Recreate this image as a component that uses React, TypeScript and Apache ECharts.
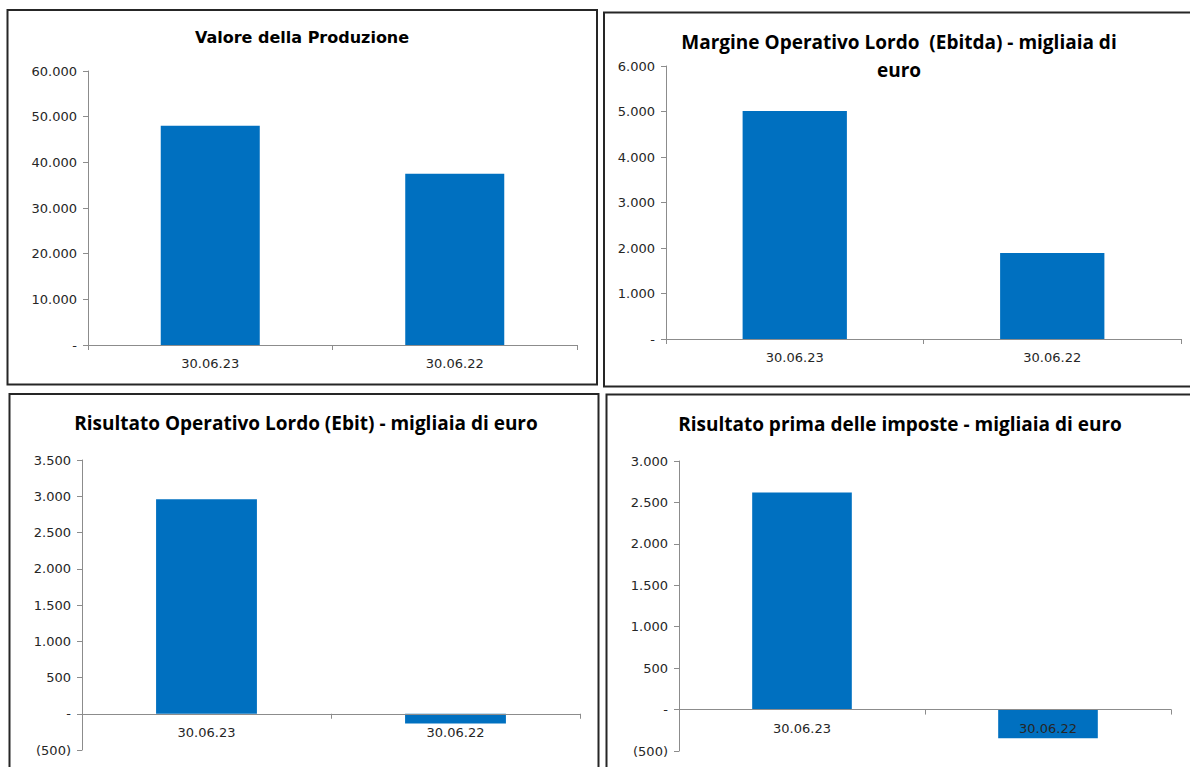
import React, { useEffect, useRef } from "react";
import * as echarts from "echarts";

const categories = ["30.06.23", "30.06.22"];
const produzione = [48000, 37500];
const ebitda = [5010, 1890];
const ebit = [2960, -135];
const preTax = [2620, -345];

const titles = [
  "Valore della Produzione",
  "Margine Operativo Lordo  (Ebitda) - migliaia di\neuro",
  "Risultato Operativo Lordo (Ebit) - migliaia di euro",
  "Risultato prima delle imposte - migliaia di euro",
];
const yMins = [0, 0, -500, -500];
const yMaxs = [60000, 6000, 3500, 3000];
const yIntervals = [10000, 1000, 500, 500];
const seriesData = [produzione, ebitda, ebit, preTax];

const BAR = "#0070C0";
const AXIS = "#8c8c8c";
const TXT = "#262626";

function fmtNum(v: number): string {
  const s = Math.round(Math.abs(v)).toString();
  return s.replace(/\B(?=(\d{3})+(?!\d))/g, ".");
}
function yLabel(v: number): string {
  if (v === 0) return "-";
  if (v < 0) return "(" + fmtNum(v) + ")";
  return fmtNum(v);
}

export default function App() {
  const ref = useRef<HTMLDivElement>(null);
  useEffect(() => {
    if (!ref.current) return;
    const chart = echarts.init(ref.current, undefined, { renderer: "svg" });

    const grids = [
      { left: 88, top: 71, width: 489, height: 274 },
      { left: 666, top: 66, width: 515, height: 273 },
      { left: 82, top: 460, width: 498, height: 290 },
      { left: 679, top: 461, width: 492, height: 290 },
    ];
    const titlePos = [
      { left: 302, top: 27 },
      { left: 899, top: 28 },
      { left: 306, top: 409 },
      { left: 900, top: 410 },
    ];

    const option: any = {
      animation: false,
      backgroundColor: "#ffffff",
      title: titles.map((t, i) => ({
        text: t,
        left: titlePos[i].left,
        top: titlePos[i].top,
        padding: 0,
        textAlign: "center",
        textStyle:
          i === 0
            ? { fontFamily: "DejaVu Sans", fontWeight: "bold", fontSize: 16, color: "#000", lineHeight: 20 }
            : { fontFamily: "Open Sans", fontWeight: "bold", fontSize: 19, color: "#000", lineHeight: 28 },
      })),
      grid: grids.map((g) => ({ ...g, containLabel: false, outerBoundsMode: "none" })),
      xAxis: grids.map((g, i) => ({
        type: "category",
        gridIndex: i,
        data: categories,
        z: 5,
        offset: -(g.height * (0 - yMins[i])) / (yMaxs[i] - yMins[i]),
        axisLine: { show: true, onZero: false, lineStyle: { color: AXIS, width: 1 } },
        axisTick: { show: true, length: 5, lineStyle: { color: AXIS } },
        axisLabel: { color: TXT, fontFamily: "DejaVu Sans", fontSize: 13, margin: 12 },
        splitLine: { show: false },
      })),
      yAxis: grids.map((_, i) => ({
        type: "value",
        gridIndex: i,
        min: yMins[i],
        max: yMaxs[i],
        interval: yIntervals[i],
        axisLine: { show: true, lineStyle: { color: AXIS, width: 1 } },
        axisTick: { show: true, length: 5, lineStyle: { color: AXIS } },
        axisLabel: {
          color: TXT,
          fontFamily: "DejaVu Sans",
          fontSize: 13,
          margin: 11,
          formatter: yLabel,
        },
        splitLine: { show: false },
      })),
      series: seriesData.map((d, i) => ({
        type: "bar",
        xAxisIndex: i,
        yAxisIndex: i,
        data: d,
        barWidth: "40.5%",
        itemStyle: { color: BAR },
      })),
      graphic: [
        { type: "rect", shape: { x: 7.5, y: 10, width: 589.5, height: 374.5 }, style: { fill: "none", stroke: "#262626", lineWidth: 2 } },
        { type: "rect", shape: { x: 604, y: 12.5, width: 600, height: 374 }, style: { fill: "none", stroke: "#262626", lineWidth: 2 } },
        { type: "rect", shape: { x: 9.5, y: 394, width: 589, height: 400 }, style: { fill: "none", stroke: "#262626", lineWidth: 2 } },
        { type: "rect", shape: { x: 606.5, y: 394.5, width: 600, height: 400 }, style: { fill: "none", stroke: "#262626", lineWidth: 2 } },
      ],
    };
    chart.setOption(option);
    return () => chart.dispose();
  }, []);
  return (
    <div
      ref={ref}
      style={{ position: "absolute", left: 0, top: 0, width: 1190, height: 767, background: "#fff" }}
    />
  );
}
